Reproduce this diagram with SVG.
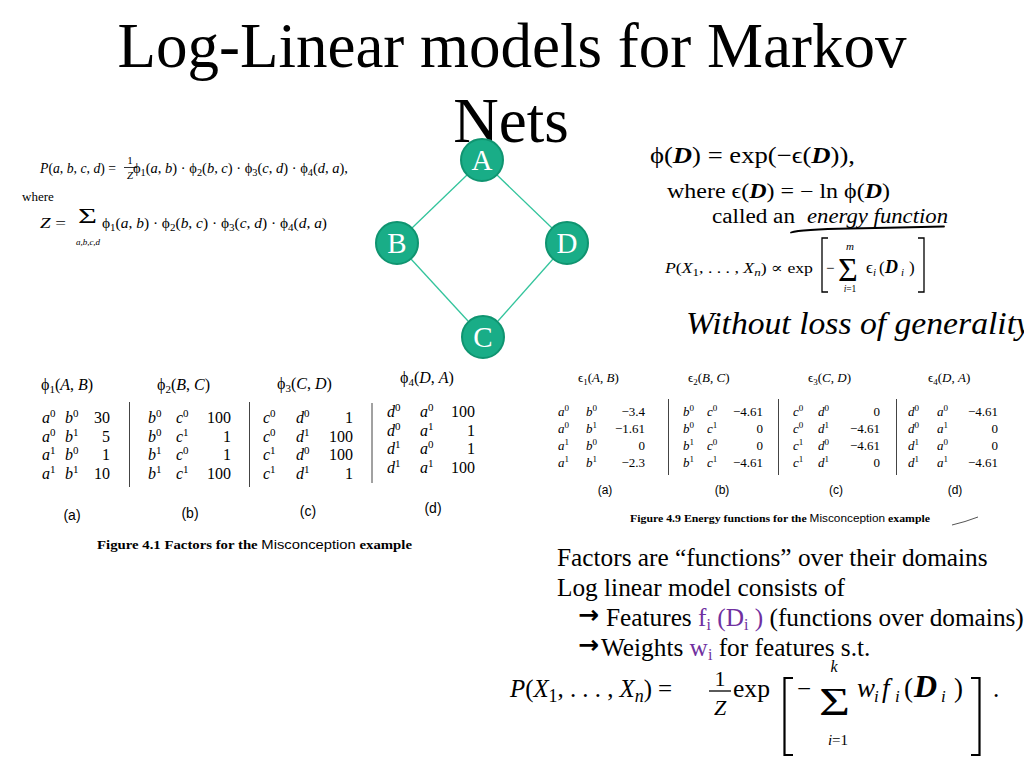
<svg xmlns="http://www.w3.org/2000/svg" width="1024" height="768" viewBox="0 0 1024 768">
<style>
.m{font-family:"Liberation Serif","DejaVu Serif",serif;fill:#000}
.it{font-style:italic}
.bi{font-style:italic;font-weight:bold}
.b{font-weight:bold}
.sa{font-family:"Liberation Sans","DejaVu Sans",sans-serif;fill:#000}
.c1{font-size:16px}
.c2{font-size:13px}
.s1{font-size:11px}
.s2{font-size:9px}
.r{text-anchor:end}
.mid{text-anchor:middle}
.dv{stroke:#444;stroke-width:1}
.edge{stroke:#33c49c;stroke-width:1.3;fill:none}
.nd{fill:#19ad87;stroke:#0f9470;stroke-width:2}
.nl{font-family:"Liberation Serif",serif;font-size:29px;fill:#fff;text-anchor:middle}
.br{fill:none;stroke:#000}
.pu{fill:#7030a0}
.tx{font-family:"Liberation Serif",serif;font-size:25.3px;fill:#000}
.ar{font-family:"DejaVu Sans",sans-serif;font-weight:bold;font-size:25px;fill:#000}
</style>
<rect width="1024" height="768" fill="#fff"/>

<g id="title">
<text class="m mid" x="512" y="67" font-size="63">Log-Linear models for Markov</text>
<text class="m mid" x="511" y="142" font-size="63">Nets</text>
</g>

<g id="connectors">
<line class="edge" x1="467" y1="175" x2="412" y2="228"/>
<line class="edge" x1="497" y1="175" x2="552" y2="228"/>
<line class="edge" x1="411" y1="259" x2="468" y2="321"/>
<line class="edge" x1="553" y1="259" x2="498" y2="321"/>
</g>
<g id="node-A"><circle class="nd" cx="482" cy="160" r="21"/><text class="nl" x="482" y="170">A</text></g>
<g id="node-B"><circle class="nd" cx="397" cy="243" r="21"/><text class="nl" x="397" y="253">B</text></g>
<g id="node-D"><circle class="nd" cx="567" cy="243" r="21"/><text class="nl" x="567" y="253">D</text></g>
<g id="node-C"><circle class="nd" cx="483" cy="337" r="21"/><text class="nl" x="483" y="347">C</text></g>

<g id="eq-top-left">
<text class="m" x="40" y="173" font-size="14" textLength="76" lengthAdjust="spacingAndGlyphs"><tspan class="it">P</tspan>(<tspan class="it">a</tspan>, <tspan class="it">b</tspan>, <tspan class="it">c</tspan>, <tspan class="it">d</tspan>) =</text>
<text class="m mid" x="130" y="164" font-size="11">1</text>
<line x1="124" y1="167.5" x2="137" y2="167.5" stroke="#000" stroke-width="0.8"/>
<text class="m mid it" x="130" y="179" font-size="11">Z</text>
<text class="m" x="133" y="173" font-size="14" textLength="215" lengthAdjust="spacingAndGlyphs">ϕ<tspan font-size="10" dy="3">1</tspan><tspan dy="-3">(</tspan><tspan class="it">a</tspan>, <tspan class="it">b</tspan>) · ϕ<tspan font-size="10" dy="3">2</tspan><tspan dy="-3">(</tspan><tspan class="it">b</tspan>, <tspan class="it">c</tspan>) · ϕ<tspan font-size="10" dy="3">3</tspan><tspan dy="-3">(</tspan><tspan class="it">c</tspan>, <tspan class="it">d</tspan>) · ϕ<tspan font-size="10" dy="3">4</tspan><tspan dy="-3">(</tspan><tspan class="it">d</tspan>, <tspan class="it">a</tspan>),</text>
<text class="m" x="22" y="201" font-size="13">where</text>
<text class="m" x="40" y="228" font-size="14" textLength="26" lengthAdjust="spacingAndGlyphs"><tspan class="it">Z</tspan> =</text>
<text class="m" x="78" y="223" font-size="21" textLength="19" lengthAdjust="spacingAndGlyphs">Σ</text>
<text class="m it mid" x="88" y="245" font-size="9">a,b,c,d</text>
<text class="m" x="102" y="228" font-size="14" textLength="225" lengthAdjust="spacingAndGlyphs">ϕ<tspan font-size="10" dy="3">1</tspan><tspan dy="-3">(</tspan><tspan class="it">a</tspan>, <tspan class="it">b</tspan>) · ϕ<tspan font-size="10" dy="3">2</tspan><tspan dy="-3">(</tspan><tspan class="it">b</tspan>, <tspan class="it">c</tspan>) · ϕ<tspan font-size="10" dy="3">3</tspan><tspan dy="-3">(</tspan><tspan class="it">c</tspan>, <tspan class="it">d</tspan>) · ϕ<tspan font-size="10" dy="3">4</tspan><tspan dy="-3">(</tspan><tspan class="it">d</tspan>, <tspan class="it">a</tspan>)</text>
</g>

<g id="eq-top-right">
<text class="m" x="650" y="163" font-size="23" textLength="205" lengthAdjust="spacingAndGlyphs">ϕ(<tspan class="bi">D</tspan>) = exp(−ϵ(<tspan class="bi">D</tspan>)),</text>
<text class="m" x="667" y="198" font-size="20" textLength="223" lengthAdjust="spacingAndGlyphs">where ϵ(<tspan class="bi">D</tspan>) = − ln ϕ(<tspan class="bi">D</tspan>)</text>
<text class="m" x="712" y="223" font-size="20" textLength="83" lengthAdjust="spacingAndGlyphs">called an</text>
<text class="m it" x="807" y="223" font-size="20" textLength="141" lengthAdjust="spacingAndGlyphs">energy function</text>
<path d="M791,232.5 C800,229.5 820,229 850,228.5 S920,227 944,226.5" fill="none" stroke="#000" stroke-width="1.8" stroke-linecap="round"/>
<text class="m" x="665" y="273" font-size="15" textLength="148" lengthAdjust="spacingAndGlyphs"><tspan class="it">P</tspan>(<tspan class="it">X</tspan><tspan font-size="11" dy="3">1</tspan><tspan dy="-3">, . . . , </tspan><tspan class="it">X</tspan><tspan class="it" font-size="11" dy="3">n</tspan><tspan dy="-3">) ∝ exp</tspan></text>
<path class="br" stroke-width="1.3" d="M828,238 H822 V292 H828"/>
<text class="m" x="826" y="273" font-size="15">−</text>
<text class="m" x="838" y="281" font-size="34">Σ</text>
<text class="m it mid" x="850" y="250" font-size="11">m</text>
<text class="m mid" x="850" y="292" font-size="9.5"><tspan class="it">i</tspan>=1</text>
<text class="m" y="273" font-size="17"><tspan x="866">ϵ</tspan><tspan x="873" dy="3" class="it" font-size="11">i</tspan><tspan x="879" dy="-3">(</tspan><tspan x="885" class="bi" font-size="18">D</tspan><tspan x="901" dy="3" class="it" font-size="11">i</tspan><tspan x="909" dy="-3">)</tspan></text>
<path class="br" stroke-width="1.3" d="M918,238 H924 V292 H918"/>
</g>

<text class="m it" x="686" y="334" font-size="31" textLength="345" lengthAdjust="spacingAndGlyphs">Without loss of generality</text>

<g id="fig41">
<text class="m c1" x="41" y="390">ϕ<tspan class="s1" dy="3">1</tspan><tspan dy="-3">(</tspan><tspan class="it">A</tspan>, <tspan class="it">B</tspan>)</text>
<text class="m c1" x="157" y="390">ϕ<tspan class="s1" dy="3">2</tspan><tspan dy="-3">(</tspan><tspan class="it">B</tspan>, <tspan class="it">C</tspan>)</text>
<text class="m c1" x="277" y="389">ϕ<tspan class="s1" dy="3">3</tspan><tspan dy="-3">(</tspan><tspan class="it">C</tspan>, <tspan class="it">D</tspan>)</text>
<text class="m c1" x="400" y="383">ϕ<tspan class="s1" dy="3">4</tspan><tspan dy="-3">(</tspan><tspan class="it">D</tspan>, <tspan class="it">A</tspan>)</text>

<text class="m c1" y="423"><tspan x="42" class="it">a</tspan><tspan class="s1" dy="-6">0</tspan><tspan x="65" dy="6" class="it">b</tspan><tspan class="s1" dy="-6">0</tspan></text><text class="m c1 r" x="110" y="423">30</text>
<text class="m c1" y="441.5"><tspan x="42" class="it">a</tspan><tspan class="s1" dy="-6">0</tspan><tspan x="65" dy="6" class="it">b</tspan><tspan class="s1" dy="-6">1</tspan></text><text class="m c1 r" x="110" y="441.5">5</text>
<text class="m c1" y="460"><tspan x="42" class="it">a</tspan><tspan class="s1" dy="-6">1</tspan><tspan x="65" dy="6" class="it">b</tspan><tspan class="s1" dy="-6">0</tspan></text><text class="m c1 r" x="110" y="460">1</text>
<text class="m c1" y="478.5"><tspan x="42" class="it">a</tspan><tspan class="s1" dy="-6">1</tspan><tspan x="65" dy="6" class="it">b</tspan><tspan class="s1" dy="-6">1</tspan></text><text class="m c1 r" x="110" y="478.5">10</text>
<line class="dv" x1="129.5" y1="402" x2="129.5" y2="487"/>

<text class="m c1" y="423"><tspan x="148" class="it">b</tspan><tspan class="s1" dy="-6">0</tspan><tspan x="176" dy="6" class="it">c</tspan><tspan class="s1" dy="-6">0</tspan></text><text class="m c1 r" x="231" y="423">100</text>
<text class="m c1" y="441.5"><tspan x="148" class="it">b</tspan><tspan class="s1" dy="-6">0</tspan><tspan x="176" dy="6" class="it">c</tspan><tspan class="s1" dy="-6">1</tspan></text><text class="m c1 r" x="231" y="441.5">1</text>
<text class="m c1" y="460"><tspan x="148" class="it">b</tspan><tspan class="s1" dy="-6">1</tspan><tspan x="176" dy="6" class="it">c</tspan><tspan class="s1" dy="-6">0</tspan></text><text class="m c1 r" x="231" y="460">1</text>
<text class="m c1" y="478.5"><tspan x="148" class="it">b</tspan><tspan class="s1" dy="-6">1</tspan><tspan x="176" dy="6" class="it">c</tspan><tspan class="s1" dy="-6">1</tspan></text><text class="m c1 r" x="231" y="478.5">100</text>
<line class="dv" x1="249.5" y1="402" x2="249.5" y2="487"/>

<text class="m c1" y="423"><tspan x="263" class="it">c</tspan><tspan class="s1" dy="-6">0</tspan><tspan x="296" dy="6" class="it">d</tspan><tspan class="s1" dy="-6">0</tspan></text><text class="m c1 r" x="353" y="423">1</text>
<text class="m c1" y="441.5"><tspan x="263" class="it">c</tspan><tspan class="s1" dy="-6">0</tspan><tspan x="296" dy="6" class="it">d</tspan><tspan class="s1" dy="-6">1</tspan></text><text class="m c1 r" x="353" y="441.5">100</text>
<text class="m c1" y="460"><tspan x="263" class="it">c</tspan><tspan class="s1" dy="-6">1</tspan><tspan x="296" dy="6" class="it">d</tspan><tspan class="s1" dy="-6">0</tspan></text><text class="m c1 r" x="353" y="460">100</text>
<text class="m c1" y="478.5"><tspan x="263" class="it">c</tspan><tspan class="s1" dy="-6">1</tspan><tspan x="296" dy="6" class="it">d</tspan><tspan class="s1" dy="-6">1</tspan></text><text class="m c1 r" x="353" y="478.5">1</text>
<line class="dv" x1="372" y1="403" x2="372" y2="483"/>

<text class="m c1" y="417"><tspan x="387" class="it">d</tspan><tspan class="s1" dy="-6">0</tspan><tspan x="420" dy="6" class="it">a</tspan><tspan class="s1" dy="-6">0</tspan></text><text class="m c1 r" x="475" y="417">100</text>
<text class="m c1" y="435.5"><tspan x="387" class="it">d</tspan><tspan class="s1" dy="-6">0</tspan><tspan x="420" dy="6" class="it">a</tspan><tspan class="s1" dy="-6">1</tspan></text><text class="m c1 r" x="475" y="435.5">1</text>
<text class="m c1" y="454"><tspan x="387" class="it">d</tspan><tspan class="s1" dy="-6">1</tspan><tspan x="420" dy="6" class="it">a</tspan><tspan class="s1" dy="-6">0</tspan></text><text class="m c1 r" x="475" y="454">1</text>
<text class="m c1" y="472.5"><tspan x="387" class="it">d</tspan><tspan class="s1" dy="-6">1</tspan><tspan x="420" dy="6" class="it">a</tspan><tspan class="s1" dy="-6">1</tspan></text><text class="m c1 r" x="475" y="472.5">100</text>

<text class="sa mid" x="72" y="520" font-size="14">(a)</text>
<text class="sa mid" x="190" y="518" font-size="14">(b)</text>
<text class="sa mid" x="308" y="516" font-size="14">(c)</text>
<text class="sa mid" x="433" y="513" font-size="14">(d)</text>
<text class="m" x="97" y="549" font-size="12.5" textLength="315" lengthAdjust="spacingAndGlyphs"><tspan class="b">Figure 4.1   Factors for the </tspan><tspan class="sa">Misconception</tspan><tspan class="b"> example</tspan></text>
</g>

<g id="fig49">
<text class="m c2" x="578" y="382">ϵ<tspan class="s2" dy="3">1</tspan><tspan dy="-3">(</tspan><tspan class="it">A</tspan>, <tspan class="it">B</tspan>)</text>
<text class="m c2" x="688" y="382">ϵ<tspan class="s2" dy="3">2</tspan><tspan dy="-3">(</tspan><tspan class="it">B</tspan>, <tspan class="it">C</tspan>)</text>
<text class="m c2" x="808" y="382">ϵ<tspan class="s2" dy="3">3</tspan><tspan dy="-3">(</tspan><tspan class="it">C</tspan>, <tspan class="it">D</tspan>)</text>
<text class="m c2" x="928" y="382">ϵ<tspan class="s2" dy="3">4</tspan><tspan dy="-3">(</tspan><tspan class="it">D</tspan>, <tspan class="it">A</tspan>)</text>

<text class="m c2" y="416"><tspan x="558" class="it">a</tspan><tspan class="s2" dy="-5">0</tspan><tspan x="586" dy="5" class="it">b</tspan><tspan class="s2" dy="-5">0</tspan></text><text class="m c2 r" x="645" y="416">−3.4</text>
<text class="m c2" y="433"><tspan x="558" class="it">a</tspan><tspan class="s2" dy="-5">0</tspan><tspan x="586" dy="5" class="it">b</tspan><tspan class="s2" dy="-5">1</tspan></text><text class="m c2 r" x="645" y="433">−1.61</text>
<text class="m c2" y="450"><tspan x="558" class="it">a</tspan><tspan class="s2" dy="-5">1</tspan><tspan x="586" dy="5" class="it">b</tspan><tspan class="s2" dy="-5">0</tspan></text><text class="m c2 r" x="645" y="450">0</text>
<text class="m c2" y="467"><tspan x="558" class="it">a</tspan><tspan class="s2" dy="-5">1</tspan><tspan x="586" dy="5" class="it">b</tspan><tspan class="s2" dy="-5">1</tspan></text><text class="m c2 r" x="645" y="467">−2.3</text>
<line class="dv" x1="668.5" y1="399" x2="668.5" y2="475"/>

<text class="m c2" y="416"><tspan x="683" class="it">b</tspan><tspan class="s2" dy="-5">0</tspan><tspan x="707" dy="5" class="it">c</tspan><tspan class="s2" dy="-5">0</tspan></text><text class="m c2 r" x="763" y="416">−4.61</text>
<text class="m c2" y="433"><tspan x="683" class="it">b</tspan><tspan class="s2" dy="-5">0</tspan><tspan x="707" dy="5" class="it">c</tspan><tspan class="s2" dy="-5">1</tspan></text><text class="m c2 r" x="763" y="433">0</text>
<text class="m c2" y="450"><tspan x="683" class="it">b</tspan><tspan class="s2" dy="-5">1</tspan><tspan x="707" dy="5" class="it">c</tspan><tspan class="s2" dy="-5">0</tspan></text><text class="m c2 r" x="763" y="450">0</text>
<text class="m c2" y="467"><tspan x="683" class="it">b</tspan><tspan class="s2" dy="-5">1</tspan><tspan x="707" dy="5" class="it">c</tspan><tspan class="s2" dy="-5">1</tspan></text><text class="m c2 r" x="763" y="467">−4.61</text>
<line class="dv" x1="778.5" y1="399" x2="778.5" y2="475"/>

<text class="m c2" y="416"><tspan x="793" class="it">c</tspan><tspan class="s2" dy="-5">0</tspan><tspan x="818" dy="5" class="it">d</tspan><tspan class="s2" dy="-5">0</tspan></text><text class="m c2 r" x="880" y="416">0</text>
<text class="m c2" y="433"><tspan x="793" class="it">c</tspan><tspan class="s2" dy="-5">0</tspan><tspan x="818" dy="5" class="it">d</tspan><tspan class="s2" dy="-5">1</tspan></text><text class="m c2 r" x="880" y="433">−4.61</text>
<text class="m c2" y="450"><tspan x="793" class="it">c</tspan><tspan class="s2" dy="-5">1</tspan><tspan x="818" dy="5" class="it">d</tspan><tspan class="s2" dy="-5">0</tspan></text><text class="m c2 r" x="880" y="450">−4.61</text>
<text class="m c2" y="467"><tspan x="793" class="it">c</tspan><tspan class="s2" dy="-5">1</tspan><tspan x="818" dy="5" class="it">d</tspan><tspan class="s2" dy="-5">1</tspan></text><text class="m c2 r" x="880" y="467">0</text>
<line class="dv" x1="896.5" y1="399" x2="896.5" y2="475"/>

<text class="m c2" y="416"><tspan x="908" class="it">d</tspan><tspan class="s2" dy="-5">0</tspan><tspan x="937" dy="5" class="it">a</tspan><tspan class="s2" dy="-5">0</tspan></text><text class="m c2 r" x="998" y="416">−4.61</text>
<text class="m c2" y="433"><tspan x="908" class="it">d</tspan><tspan class="s2" dy="-5">0</tspan><tspan x="937" dy="5" class="it">a</tspan><tspan class="s2" dy="-5">1</tspan></text><text class="m c2 r" x="998" y="433">0</text>
<text class="m c2" y="450"><tspan x="908" class="it">d</tspan><tspan class="s2" dy="-5">1</tspan><tspan x="937" dy="5" class="it">a</tspan><tspan class="s2" dy="-5">0</tspan></text><text class="m c2 r" x="998" y="450">0</text>
<text class="m c2" y="467"><tspan x="908" class="it">d</tspan><tspan class="s2" dy="-5">1</tspan><tspan x="937" dy="5" class="it">a</tspan><tspan class="s2" dy="-5">1</tspan></text><text class="m c2 r" x="998" y="467">−4.61</text>

<text class="sa mid" x="605" y="494" font-size="12">(a)</text>
<text class="sa mid" x="722" y="494" font-size="12">(b)</text>
<text class="sa mid" x="836" y="494" font-size="12">(c)</text>
<text class="sa mid" x="955" y="494" font-size="12">(d)</text>
<text class="m" x="630" y="522" font-size="11" textLength="300" lengthAdjust="spacingAndGlyphs"><tspan class="b">Figure 4.9   Energy functions for the </tspan><tspan class="sa">Misconception</tspan><tspan class="b"> example</tspan></text>
<path d="M952,525 Q965,522 978,517" fill="none" stroke="#555" stroke-width="1"/>
</g>

<g id="bullets">
<text class="tx" x="557" y="566">Factors are “functions” over their domains</text>
<text class="tx" x="557" y="596">Log linear model consists of</text>
<text class="ar" x="578" y="623">→</text>
<text class="tx" x="606" y="626">Features <tspan class="pu">f</tspan><tspan class="pu" font-size="16" dy="4">i</tspan><tspan class="pu" dy="-4"> (D</tspan><tspan class="pu" font-size="16" dy="4">i</tspan><tspan class="pu" dy="-4"> )</tspan> (functions over domains)</text>
<text class="ar" x="578" y="653">→</text>
<text class="tx" x="601" y="656">Weights <tspan class="pu">w</tspan><tspan class="pu" font-size="16" dy="4">i</tspan><tspan dy="-4"> for features s.t.</tspan></text>
</g>

<g id="eq-bottom">
<text class="m" x="510" y="697" font-size="25" textLength="142" lengthAdjust="spacingAndGlyphs"><tspan class="it">P</tspan>(<tspan class="it">X</tspan><tspan font-size="18" dy="5">1</tspan><tspan dy="-5">, . . . , </tspan><tspan class="it">X</tspan><tspan class="it" font-size="18" dy="5">n</tspan><tspan dy="-5">)</tspan></text>
<text class="m" x="658" y="697" font-size="25">=</text>
<text class="m mid" x="720" y="686" font-size="22">1</text>
<line x1="709" y1="691" x2="731" y2="691" stroke="#000" stroke-width="1.3"/>
<text class="m mid it" x="720" y="715" font-size="22">Z</text>
<text class="m" x="733" y="697" font-size="25" textLength="37" lengthAdjust="spacingAndGlyphs">exp</text>
<path class="br" stroke-width="2.2" d="M793,678 H784.5 V755 H793"/>
<text class="m" x="797" y="697" font-size="25">−</text>
<text class="m" x="819" y="715" font-size="41" textLength="31" lengthAdjust="spacingAndGlyphs">Σ</text>
<text class="m it mid" x="834" y="672" font-size="16">k</text>
<text class="m mid" x="838" y="745" font-size="15"><tspan class="it">i</tspan>=1</text>
<text class="m" y="697" font-size="27"><tspan x="857" class="it">w</tspan><tspan x="874" dy="5" class="it" font-size="17">i</tspan><tspan x="882" dy="-5" class="it">f</tspan><tspan x="895" dy="5" class="it" font-size="17">i</tspan><tspan x="904" dy="-5">(</tspan><tspan x="914" class="bi" font-size="32">D</tspan><tspan x="941" dy="5" class="it" font-size="17">i</tspan><tspan x="954" dy="-5">)</tspan></text>
<path class="br" stroke-width="2.2" d="M971,678 H979.5 V755 H971"/>
<text class="m" x="993" y="697" font-size="25">.</text>
</g>
</svg>
